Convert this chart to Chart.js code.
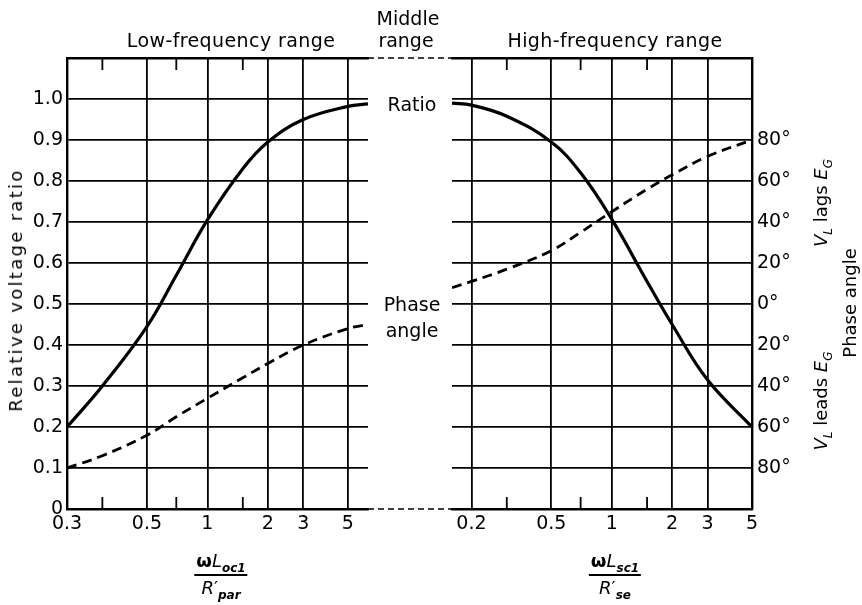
<!DOCTYPE html>
<html><head><meta charset="utf-8">
<script src="https://cdn.jsdelivr.net/npm/chart.js@4.4.1/dist/chart.umd.min.js"></script>
<style>
html,body{margin:0;padding:0;background:#fff;}
#wrap{position:relative;width:862px;height:605px;overflow:hidden;font-family:'DejaVu Sans',sans-serif;color:#000;}
canvas{position:absolute;left:0;top:0;}
.t{position:absolute;white-space:nowrap;font-size:18px;line-height:18px;transform:translate(-50%,-50%);}
.rot{transform:translate(-50%,-50%) rotate(-90deg);}
.sub{font-size:12px;position:relative;top:5px;}
.frac{position:absolute;transform:translateX(-50%);text-align:center;white-space:nowrap;}
.num{font-size:18px;line-height:20px;padding:0 2px;}
.bar{border-top:2px solid #000;margin:1px 0 2px 0;}
.den{font-size:18px;line-height:20px;}
</style></head>
<body><div id="wrap">
<canvas id="cLow" width="862" height="605"></canvas>
<canvas id="cHigh" width="862" height="605"></canvas>

<div class="t" style="left:231px;top:40px;font-size:19px;letter-spacing:0.4px">Low-frequency range</div>
<div class="t" style="left:408px;top:18px;font-size:19px">Middle</div>
<div class="t" style="left:406px;top:40px;font-size:19px">range</div>
<div class="t" style="left:615px;top:40px;font-size:19px;letter-spacing:0.4px">High-frequency range</div>
<div class="t" style="left:412px;top:104px;font-size:19px">Ratio</div>
<div class="t" style="left:412px;top:304px;font-size:19px">Phase</div>
<div class="t" style="left:412px;top:330px;font-size:19px">angle</div>

<div class="t rot" style="left:16px;top:290px;letter-spacing:2.3px">Relative voltage ratio</div>
<div class="t rot" style="left:822px;top:203px"><i>V</i><span class="sub"><i>L</i></span> lags <i>E</i><span class="sub"><i>G</i></span></div>
<div class="t rot" style="left:822px;top:401px"><i>V</i><span class="sub"><i>L</i></span> leads <i>E</i><span class="sub"><i>G</i></span></div>
<div class="t rot" style="left:850px;top:303px">Phase angle</div>

<div class="frac" style="left:221px;top:551px">
  <div class="num"><b>ω</b><i>L</i><span class="sub"><b><i>oc1</i></b></span></div>
  <div class="bar"></div>
  <div class="den"><i>R</i>′<span class="sub"><b><i>par</i></b></span></div>
</div>
<div class="frac" style="left:615px;top:551px">
  <div class="num"><b>ω</b><i>L</i><span class="sub"><b><i>sc1</i></b></span></div>
  <div class="bar"></div>
  <div class="den"><i>R</i>′<span class="sub"><b><i>se</i></b></span></div>
</div>
</div>
<script>
// ---- data ----
const lowX       = [0.2, 0.3, 0.5, 0.7, 1, 1.5, 2, 3, 5, 6.3];
const lowRatio   = [0.20, 0.30, 0.445, 0.57, 0.705, 0.83, 0.895, 0.95, 0.982, 0.988];
const lowPhase   = [-80, -74, -64, -55, -46, -36, -29, -20, -12, -10];   // degrees (lead < 0)
const highX      = [0.16, 0.2, 0.3, 0.5, 0.7, 1, 1.5, 2, 3, 5];
const highRatio  = [0.99, 0.985, 0.958, 0.895, 0.82, 0.707, 0.555, 0.45, 0.315, 0.20];
const highPhase  = [8, 11, 17, 26, 35, 45, 56, 63, 72, 80];               // degrees (lag > 0)

const lowTickValues  = [0.2, 0.5, 1, 2, 3, 5];
const lowTickLabels  = ['0.3', '0.5', '1', '2', '3', '5'];
const highTickValues = [0.2, 0.5, 1, 2, 3, 5];
const highTickLabels = ['0.2', '0.5', '1', '2', '3', '5'];
const minorTickValues = [0.3, 0.7, 1.5];
const ratioTickValues = [0, 0.1, 0.2, 0.3, 0.4, 0.5, 0.6, 0.7, 0.8, 0.9, 1.0];
const ratioTickLabels = ['0', '0.1', '0.2', '0.3', '0.4', '0.5', '0.6', '0.7', '0.8', '0.9', '1.0'];
const phaseTickValues = [-100, -80, -60, -40, -20, 0, 20, 40, 60, 80, 100];
const phaseTickLabels = ['', '80°', '60°', '40°', '20°', '0°', '20°', '40°', '60°', '80°', ''];

const lowXRange  = [0.2, 6.3];
const highXRange = [0.16, 5];
const ratioRange = [0, 1.1];
const phaseRange = [-100, 120];

// ---- styling ----
const FONT = {family: "'DejaVu Sans', sans-serif", size: 19};
const GRID_W = 1.8, BORDER_W = 2.4;

function pts(xs, ys){ return xs.map((x,i)=>({x:x, y:ys[i]})); }

const minorTicks = {
  id: 'minorTicks',
  afterDraw(chart){
    const {ctx, chartArea:a} = chart; const s = chart.scales.x;
    ctx.save(); ctx.strokeStyle = '#000'; ctx.lineWidth = GRID_W;
    minorTickValues.forEach(v=>{
      const px = s.getPixelForValue(v);
      ctx.beginPath(); ctx.moveTo(px, a.bottom); ctx.lineTo(px, a.bottom-12); ctx.stroke();
      ctx.beginPath(); ctx.moveTo(px, a.top); ctx.lineTo(px, a.top+12); ctx.stroke();
    });
    ctx.restore();
  }
};

function baseOpts(){
  return {
    responsive:false, animation:false, events:[], devicePixelRatio:1,
    plugins:{legend:{display:false}, tooltip:{enabled:false}},
    elements:{point:{radius:0}, line:{tension:0.4, cubicInterpolationMode:'default'}},
  };
}

const lowOpts = baseOpts();
lowOpts.layout = {autoPadding:false, padding:{top:58, right:862-368, bottom:0, left:0}};
lowOpts.scales = {
  x: {type:'logarithmic', position:'bottom', min:lowXRange[0], max:lowXRange[1],
      afterBuildTicks: s => { s.ticks = lowTickValues.map(v=>({value:v})); },
      afterFit: s => { s.height = 605-509; },
      ticks:{autoSkip:false, maxRotation:0, padding:4, color:'#000', font:FONT,
             callback:(v,i)=>lowTickLabels[i]},
      grid:{color:'#000', lineWidth:GRID_W, drawTicks:false},
      border:{color:'#000', width:BORDER_W}},
  xTop: {type:'logarithmic', position:'top', min:lowXRange[0], max:lowXRange[1],
      ticks:{display:false}, grid:{display:false, drawTicks:false},
      border:{color:'#000', width:BORDER_W}, afterFit: s => { s.height = 0; }},
  y: {type:'linear', position:'left', min:ratioRange[0], max:ratioRange[1],
      afterBuildTicks: s => { s.ticks = ratioTickValues.map(v=>({value:v})); },
      afterFit: s => { s.width = 67; },
      ticks:{padding:4, color:'#000', font:FONT, callback:(v,i)=>ratioTickLabels[i]},
      grid:{color:'#000', lineWidth:GRID_W, drawTicks:false},
      border:{color:'#000', width:BORDER_W}},
  yp: {type:'linear', display:false, min:phaseRange[0], max:phaseRange[1]}
};

const lowChart = new Chart(document.getElementById('cLow'), {
  type:'line',
  data:{datasets:[
    {data:pts(lowX, lowRatio), yAxisID:'y', borderColor:'#000', borderWidth:3.2, fill:false},
    {data:pts(lowX, lowPhase), yAxisID:'yp', borderColor:'#000', borderWidth:2.8,
     borderDash:[10,6], fill:false}
  ]},
  options: lowOpts,
  plugins:[minorTicks]
});

const connectors = {
  id:'connectors',
  afterDraw(chart){
    const {ctx, chartArea:a} = chart;
    const x0 = lowChart.chartArea.right;
    ctx.save(); ctx.strokeStyle='#000'; ctx.lineWidth=1.5; ctx.setLineDash([6,4]);
    [a.top, a.bottom].forEach(y=>{
      ctx.beginPath(); ctx.moveTo(x0, y); ctx.lineTo(a.left, y); ctx.stroke();
    });
    ctx.restore();
  }
};

const highOpts = baseOpts();
highOpts.layout = {autoPadding:false, padding:{top:58, right:0, bottom:0, left:452}};
highOpts.scales = {
  x: {type:'logarithmic', position:'bottom', min:highXRange[0], max:highXRange[1],
      afterBuildTicks: s => { s.ticks = highTickValues.map(v=>({value:v})); },
      afterFit: s => { s.height = 605-509; },
      ticks:{autoSkip:false, maxRotation:0, padding:4, color:'#000', font:FONT,
             callback:(v,i)=>highTickLabels[i]},
      grid:{color:'#000', lineWidth:GRID_W, drawTicks:false},
      border:{color:'#000', width:BORDER_W}},
  xTop: {type:'logarithmic', position:'top', min:highXRange[0], max:highXRange[1],
      ticks:{display:false}, grid:{display:false, drawTicks:false},
      border:{color:'#000', width:BORDER_W}, afterFit: s => { s.height = 0; }},
  y: {type:'linear', display:false, min:ratioRange[0], max:ratioRange[1]},
  yp: {type:'linear', position:'right', min:phaseRange[0], max:phaseRange[1],
      afterBuildTicks: s => { s.ticks = phaseTickValues.map(v=>({value:v})); },
      afterFit: s => { s.width = 862-752; },
      ticks:{padding:5, color:'#000', font:FONT, callback:(v,i)=>phaseTickLabels[i]},
      grid:{color:'#000', lineWidth:GRID_W, drawTicks:false},
      border:{color:'#000', width:BORDER_W}}
};

const highChart = new Chart(document.getElementById('cHigh'), {
  type:'line',
  data:{datasets:[
    {data:pts(highX, highRatio), yAxisID:'y', borderColor:'#000', borderWidth:3.2, fill:false},
    {data:pts(highX, highPhase), yAxisID:'yp', borderColor:'#000', borderWidth:2.8,
     borderDash:[10,6], fill:false}
  ]},
  options: highOpts,
  plugins:[minorTicks, connectors]
});
</script>
</body></html>
